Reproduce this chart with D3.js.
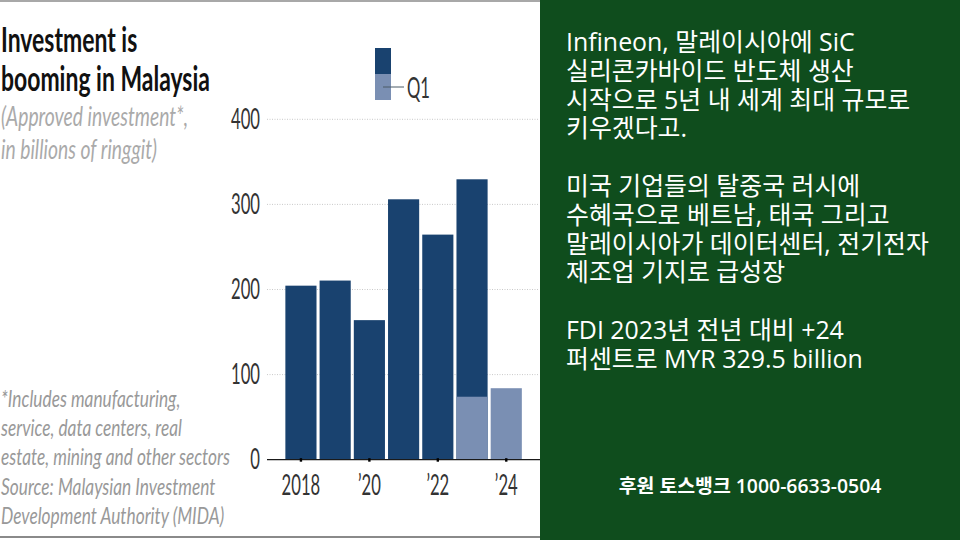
<!DOCTYPE html>
<html><head><meta charset="utf-8">
<script src="https://cdn.jsdelivr.net/npm/d3@7/dist/d3.min.js"></script>
<style>html,body{margin:0;padding:0;background:#fff}svg{display:block}</style>
</head><body><svg id="c" width="960" height="540"></svg>
<script>
const years = ["2018","2019","2020","2021","2022","2023","2024"];
const annualValues = [204.5,210.5,164,306,264.5,329.5,null];
const q1Values = [null,null,null,null,null,74,84];
const yTicks = [0,100,200,300,400];
const xTickYears = ["2018","2020","2022","2024"];
const xTickLabels = ["2018","’20","’22","’24"];
const legendLabel = "Q1";
const titleLines = ["Investment is","booming in Malaysia"];
const subtitleLines = ["(Approved investment*,","in billions of ringgit)"];
const noteLines = ["*Includes manufacturing,","service, data centers, real","estate, mining and other sectors","Source: Malaysian Investment","Development Authority (MIDA)"];
const panelLines = ["Infineon, 말레이시아에 SiC","실리콘카바이드 반도체 생산","시작으로 5년 내 세계 최대 규모로","키우겠다고.",null,"미국 기업들의 탈중국 러시에","수혜국으로 베트남, 태국 그리고","말레이시아가 데이터센터, 전기전자","제조업 기지로 급성장",null,"FDI 2023년 전년 대비 +24","퍼센트로 MYR 329.5 billion"];
const donation = "후원 토스뱅크 1000-6633-0504";

const dark="#19426f", light="#7a8fb3", green="#0f4d1d";
const svg=d3.select("#c");
const cond='Lato,"Liberation Sans",sans-serif';
const kr='"Open Sans","Noto Sans CJK KR",sans-serif';

// squeezes a set of texts horizontally so that the widest spans targetWidth
function squeeze(sel,targetWidth){
  let w=0; sel.each(function(){w=Math.max(w,this.getComputedTextLength());});
  return targetWidth/w;
}
function leftBlock(lines,x0,y0,dy,size,target,style){
  const t=svg.append("g").selectAll("text").data(lines).join("text")
    .attr("font-family",cond).attr("font-size",size).text(d=>d);
  style(t);
  const s=squeeze(t,target);
  t.attr("transform",(d,i)=>`translate(${x0},${y0+i*dy}) scale(${s},1)`);
}

svg.append("rect").attr("width",960).attr("height",540).attr("fill","#fff");
svg.append("rect").attr("x",0).attr("y",0).attr("width",540).attr("height",2).attr("fill","#a8a8a8");
svg.append("rect").attr("x",0).attr("y",536).attr("width",540).attr("height",2).attr("fill","#8a8a8a");

const y=d3.scaleLinear().domain([0,400]).range([459.7,119.3]);
const x=d3.scaleBand().domain(years).range([284,523.2]).paddingInner(0.09).paddingOuter(0.04);

// y axis
const gy=svg.append("g").attr("transform","translate(260,0)").call(d3.axisLeft(y).tickValues(yTicks).tickSize(0));
gy.select(".domain").remove();
const yt=gy.selectAll("text").attr("x",0).attr("font-family",cond).attr("font-size",29).attr("fill","#333");
const numS=squeeze(yt,29);
yt.attr("transform",`scale(${numS},1)`);

svg.append("g").selectAll("line").data(yTicks.filter(d=>d>0)).join("line")
  .attr("x1",267).attr("x2",538).attr("y1",d=>y(d)).attr("y2",d=>y(d))
  .attr("stroke","#c9c9c9").attr("stroke-width",1).attr("stroke-dasharray","1 1.5");

svg.append("g").selectAll("rect").data(years.map((d,i)=>({y:d,v:annualValues[i]})).filter(d=>d.v!=null)).join("rect")
  .attr("x",d=>x(d.y)).attr("width",x.bandwidth()).attr("y",d=>y(d.v)).attr("height",d=>y(0)-y(d.v)).attr("fill",dark);
svg.append("g").selectAll("rect").data(years.map((d,i)=>({y:d,v:q1Values[i]})).filter(d=>d.v!=null)).join("rect")
  .attr("x",d=>x(d.y)).attr("width",x.bandwidth()).attr("y",d=>y(d.v)).attr("height",d=>y(0)-y(d.v)).attr("fill",light);

svg.append("line").attr("x1",267).attr("x2",540).attr("y1",y(0)).attr("y2",y(0)).attr("stroke","#1a1a1a").attr("stroke-width",1.2);
const xc=d=>x(d)+x.bandwidth()/2;
svg.append("g").selectAll("line").data(xTickYears).join("line")
  .attr("x1",xc).attr("x2",xc).attr("y1",y(0)-1.5).attr("y2",y(0)+2).attr("stroke","#000").attr("stroke-width",2.4);
svg.append("g").selectAll("text").data(xTickYears).join("text")
  .attr("transform",d=>`translate(${xc(d)},495) scale(${numS},1)`).attr("text-anchor","middle").attr("font-family",cond).attr("font-size",29).attr("fill","#333")
  .text((d,i)=>xTickLabels[i]);

// legend
svg.append("rect").attr("x",375).attr("y",48).attr("width",16).attr("height",26).attr("fill",dark);
svg.append("rect").attr("x",375).attr("y",74).attr("width",16).attr("height",26).attr("fill",light);
svg.append("line").attr("x1",383).attr("x2",404).attr("y1",87).attr("y2",87).attr("stroke","#4a5a66").attr("stroke-width",1);
svg.append("text").attr("transform",`translate(407,98) scale(${numS},1)`).attr("font-family",cond).attr("font-size",29).attr("fill","#333").text(legendLabel);

// titles
leftBlock(titleLines,1,51.5,39.3,34,209,t=>t.attr("font-weight",700).attr("fill","#111"));
leftBlock(subtitleLines,1,126,32.5,27,187,t=>t.attr("font-style","italic").attr("fill","#aaa"));
leftBlock(noteLines,1,407,29.2,24,229,t=>t.attr("font-style","italic").attr("fill","#999"));

// panel
svg.append("rect").attr("x",540).attr("y",0).attr("width",420).attr("height",540).attr("fill",green);
svg.append("g").selectAll("text").data(panelLines).join("text")
  .attr("x",566).attr("y",(d,i)=>51+i*28.8).attr("font-family",kr).attr("font-size",24.9).attr("fill","#fff").text(d=>d);
svg.append("text").attr("x",750).attr("y",493).attr("text-anchor","middle").attr("font-family",kr).attr("font-size",19.4).attr("font-weight",600).attr("fill","#fff").text(donation);
</script></body></html>
